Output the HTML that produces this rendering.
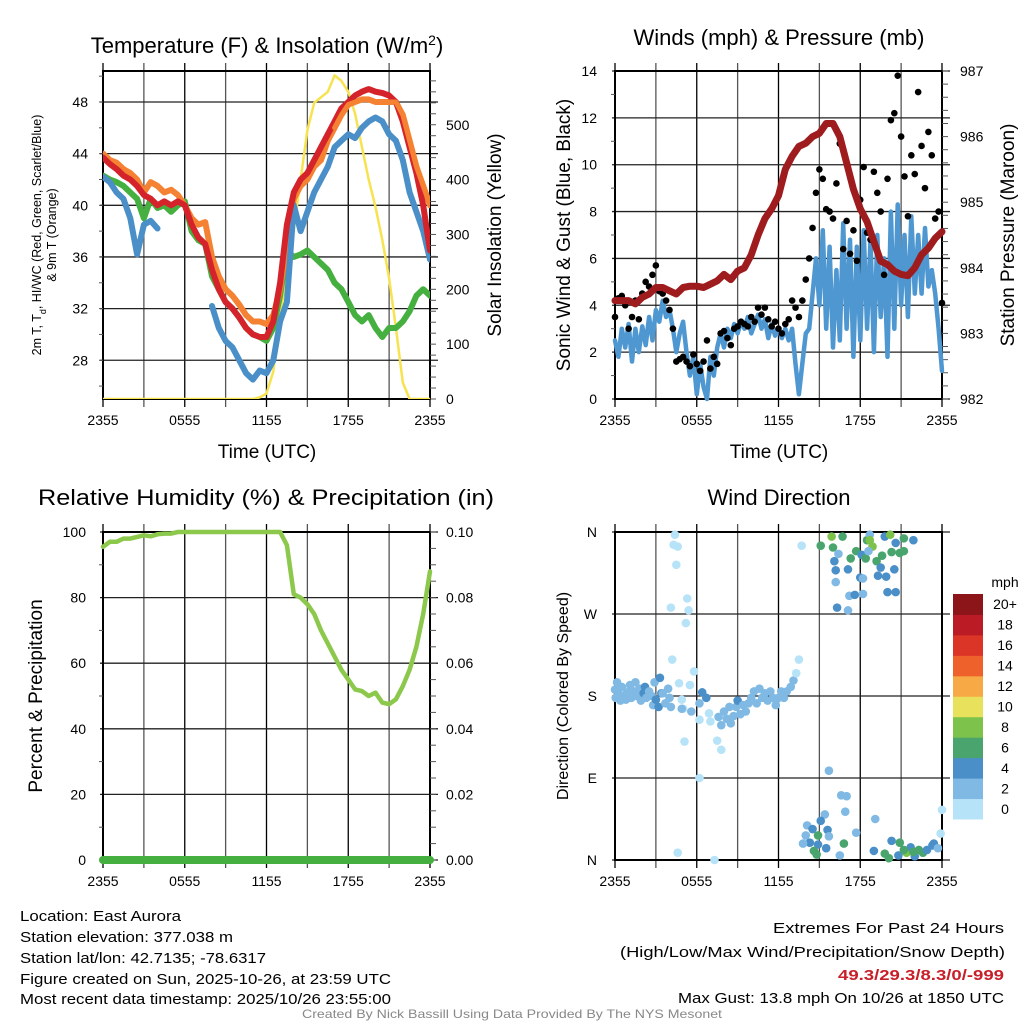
<!DOCTYPE html>
<html><head><meta charset="utf-8"><title>Station Meteogram</title>
<style>
html,body{margin:0;padding:0;background:#fff;}
svg{display:block;font-family:"Liberation Sans",sans-serif;}
</style></head>
<body>
<svg id="chart" width="1024" height="1024" viewBox="0 0 1024 1024" xmlns="http://www.w3.org/2000/svg">
<rect width="1024" height="1024" fill="#fff"/>
<g id="layer"></g>
<text x="267" y="53" font-size="22" text-anchor="middle">Temperature (F) &amp; Insolation (W/m<tspan baseline-shift="super" font-size="14">2</tspan>)</text>
<text x="779" y="45" font-size="22" text-anchor="middle">Winds (mph) &amp; Pressure (mb)</text>
<text x="266" y="505" font-size="22" text-anchor="middle" textLength="456" lengthAdjust="spacingAndGlyphs">Relative Humidity (%) &amp; Precipitation (in)</text>
<text x="779" y="505" font-size="22" text-anchor="middle">Wind Direction</text>

<text transform="translate(41,235) rotate(-90)" font-size="12.5" text-anchor="middle">2m T, T<tspan baseline-shift="sub" font-size="9">d</tspan>, HI/WC (Red, Green, Scarlet/Blue)</text>
<text transform="translate(56,235) rotate(-90)" font-size="12.5" text-anchor="middle">&amp; 9m T (Orange)</text>
<text transform="translate(501,235) rotate(-90)" font-size="19" text-anchor="middle">Solar Insolation (Yellow)</text>
<text x="267" y="458" font-size="19" text-anchor="middle">Time (UTC)</text>
<text transform="translate(570,235) rotate(-90)" font-size="19" text-anchor="middle">Sonic Wind &amp; Gust (Blue, Black)</text>
<text transform="translate(1014,235) rotate(-90)" font-size="19" text-anchor="middle">Station Pressure (Maroon)</text>
<text x="779" y="458" font-size="19" text-anchor="middle">Time (UTC)</text>
<text transform="translate(42,696) rotate(-90)" font-size="19" text-anchor="middle">Percent &amp; Precipitation</text>
<text transform="translate(568,696) rotate(-90)" font-size="16" text-anchor="middle">Direction (Colored By Speed)</text>
<text x="1005" y="587" font-size="14" text-anchor="middle">mph</text>

<g font-size="15">
<text x="20" y="921" textLength="161" lengthAdjust="spacingAndGlyphs">Location: East Aurora</text>
<text x="20" y="942" textLength="213" lengthAdjust="spacingAndGlyphs">Station elevation: 377.038 m</text>
<text x="20" y="963" textLength="246" lengthAdjust="spacingAndGlyphs">Station lat/lon: 42.7135; -78.6317</text>
<text x="20" y="984" textLength="371" lengthAdjust="spacingAndGlyphs">Figure created on Sun, 2025-10-26, at 23:59 UTC</text>
<text x="20" y="1004" textLength="371" lengthAdjust="spacingAndGlyphs">Most recent data timestamp: 2025/10/26 23:55:00</text>
</g>
<g font-size="15">
<text x="773" y="933" textLength="231" lengthAdjust="spacingAndGlyphs">Extremes For Past 24 Hours</text>
<text x="620" y="957" textLength="385" lengthAdjust="spacingAndGlyphs">(High/Low/Max Wind/Precipitation/Snow Depth)</text>
<text x="838" y="980" textLength="166" lengthAdjust="spacingAndGlyphs" fill="#c8202a" font-weight="bold">49.3/29.3/8.3/0/-999</text>
<text x="678" y="1003" textLength="326" lengthAdjust="spacingAndGlyphs">Max Gust: 13.8 mph On 10/26 at 1850 UTC</text>
</g>
<text x="302" y="1018" font-size="12" fill="#888" textLength="420" lengthAdjust="spacingAndGlyphs">Created By Nick Bassill Using Data Provided By The NYS Mesonet</text>
</svg>
<script>
// ===== Data (half-hourly, 49 points from 2355 to 2355) =====
const xTickLabels = ["2355","0555","1155","1755","2355"];
const tempTicks = [28,32,36,40,44,48];
const solarTicks = [0,100,200,300,400,500];
const windTicks = [0,2,4,6,8,10,12,14];
const presTicks = [982,983,984,985,986,987];
const rhTicks = [0,20,40,60,80,100];
const precipTicks = ["0.00","0.02","0.04","0.06","0.08","0.10"];
const dirTickLabels = ["N","E","S","W","N"];
const speedClassLabels = ["0","2","4","6","8","10","12","14","16","18","20+"];

const temp2m = [43.7,43.2,42.8,42.3,42.0,41.5,40.8,40.5,40.0,40.3,40.0,40.3,40.0,38.5,37.5,37.0,35.0,33.5,32.5,32.0,31.3,30.5,30.0,29.8,29.8,31.0,34.0,38.5,41.0,42.0,42.5,43.5,44.5,45.5,46.5,47.5,48.0,48.5,48.8,49.0,48.8,48.7,48.5,48.0,46.5,44.5,42.5,40.0,36.5];
const temp9m = [44.0,43.5,43.3,42.8,42.5,42.0,41.0,41.8,41.5,41.0,41.2,40.8,40.0,39.0,38.5,38.7,36.0,34.5,33.5,33.0,32.3,31.5,31.0,31.0,30.8,31.5,33.5,37.0,40.5,41.5,42.0,43.0,43.5,45.0,46.0,47.0,47.8,48.0,48.2,48.2,48.0,48.0,48.0,48.0,47.0,45.0,43.0,41.5,40.0];
const dewpoint = [42.3,42.0,41.8,41.5,41.0,40.5,39.0,40.5,39.8,40.0,39.5,40.0,40.3,38.0,37.3,37.0,34.5,33.5,32.5,32.0,31.3,30.5,30.0,29.8,29.5,30.5,33.0,36.5,36.0,36.2,36.5,36.0,35.5,35.0,34.0,33.5,32.5,31.5,31.0,31.5,30.5,29.8,30.5,30.5,31.0,31.8,33.0,33.5,33.0];
const heatIndexWC = [42.2,41.8,41.0,40.5,39.0,36.2,38.5,38.8,38.2,null,null,null,null,null,null,null,32.2,30.5,29.5,29.0,28.0,27.0,26.5,27.2,27.0,28.0,31.0,32.5,40.0,38.0,39.5,41.0,42.0,43.0,44.5,45.0,45.5,45.2,46.0,46.5,46.8,46.5,45.5,45.0,43.5,41.0,39.5,38.0,35.8];
const solar = [0,0,0,0,0,0,0,0,0,0,0,0,0,0,0,0,0,0,0,0,0,0,0,3,10,50,150,230,310,400,490,540,550,560,590,580,560,520,460,400,350,290,220,130,30,0,0,0,0];
// quarter-hourly sonic wind (97 points)
const windSpeed = [2.5,1.8,3.0,2.2,3.2,1.6,3.0,2.0,3.1,2.3,3.5,2.5,3.8,3.3,4.2,3.5,3.8,3.0,2.0,2.8,3.3,2.0,1.0,1.8,0.2,1.5,0.5,0.0,1.8,1.0,2.2,2.8,2.2,3.0,2.6,3.2,2.8,3.3,3.0,3.5,2.8,3.2,3.6,3.0,3.4,2.6,3.2,2.7,3.0,2.6,3.0,2.5,3.0,1.5,0.2,1.5,2.8,3.0,4.5,6.0,4.0,7.2,3.0,6.5,2.2,5.5,2.5,7.5,3.0,6.8,1.8,6.5,2.5,7.2,3.0,6.8,2.0,7.0,3.5,6.0,1.8,8.0,3.0,8.3,4.0,7.0,3.5,7.8,4.5,7.0,4.5,7.3,4.8,5.5,4.5,3.0,1.2];
const pressure = [983.5,983.5,983.5,983.45,983.55,983.6,983.7,983.7,983.65,983.6,983.7,983.72,983.72,983.7,983.75,983.8,983.9,983.82,983.95,984.0,984.2,984.5,984.75,984.9,985.1,985.5,985.7,985.85,985.9,986.0,986.05,986.2,986.2,986.0,985.6,985.2,984.9,984.7,984.4,984.1,984.05,983.95,983.9,983.88,984.0,984.2,984.3,984.45,984.55];
const relHumidity = [95.5,97,97,98,98,98.5,99,98.7,99.3,99.5,99.5,100,100,100,100,100,100,100,100,100,100,100,100,100,100,100,100,96,81,80,78,75,70,66,62,58,55,52,51.5,50,51,48,47.5,49,53,58,65,75,88];
const precip = [0,0,0,0,0,0,0,0,0,0,0,0,0,0,0,0,0,0,0,0,0,0,0,0,0,0,0,0,0,0,0,0,0,0,0,0,0,0,0,0,0,0,0,0,0,0,0,0,0];
// quarter-hourly gusts (97 points)
const gust = [3.5,4.3,4.4,4.0,3.0,3.5,4.2,3.4,4.5,5.0,4.8,5.3,5.7,4.6,4.5,4.2,3.8,3.0,1.6,1.7,1.8,1.6,1.4,1.9,1.5,1.2,1.6,2.5,1.3,1.8,1.5,2.8,2.9,2.6,2.3,3.0,3.1,3.3,3.2,3.1,3.5,3.3,3.9,3.6,3.9,3.4,3.1,3.3,3.0,2.8,3.2,3.4,4.2,3.9,3.5,4.2,5.1,6.0,7.3,8.8,9.8,9.4,8.1,8.0,7.7,9.2,10.9,6.4,7.6,6.2,7.2,5.9,8.5,9.9,7.1,6.8,9.7,8.8,8.0,5.3,9.4,11.9,12.2,13.8,11.2,9.5,7.8,10.4,9.6,13.1,10.8,9.0,11.4,10.4,7.7,8.0,4.1];
// wind direction scatter: hours since 2355, degrees, mph
const wdHour = [0.0,0.05,0.15,0.3,0.4,0.5,0.6,0.8,0.9,1.1,1.2,1.4,1.5,1.6,1.8,1.9,2.1,2.2,2.3,2.5,2.7,2.8,2.9,3.0,3.2,3.3,3.4,3.5,3.7,3.9,4.0,4.1,
 4.7,5.5,5.8,4.9,5.0,6.2,6.9,7.0,7.5,7.8,5.1,4.2,6.2,4.6,7.3,4.4,4.3,4.6,4.5,5.3,4.1,5.4,5.2,4.9,5.6,6.4,6.7,6.2,
 7.6,7.8,8.0,8.2,8.4,8.5,8.7,8.9,9.0,9.2,9.4,9.6,9.8,10.0,10.2,10.4,10.6,10.8,11.0,11.2,11.4,11.6,11.8,12.0,12.2,12.4,12.6,12.9,13.1,13.3,13.5,13.7,
 15.1,15.9,16.0,16.7,16.1,16.2,16.4,16.2,16.3,17.1,17.2,17.6,18.2,17.1,17.3,17.7,18.0,18.2,18.1,18.4,18.5,18.7,18.7,18.9,18.6,19.2,19.6,19.5,19.3,19.9,19.8,20.2,20.0,20.6,20.5,20.3,20.6,20.9,21.2,21.2,21.9,
 15.7,16.6,17.0,16.9,19.1,17.7,15.4,15.1,14.1,14.5,14.0,15.6,15.7,14.9,14.3,13.8,14.9,14.6,14.8,15.5,16.5,16.8,19.0,19.8,20.1,20.3,20.9,20.8,21.4,21.7,22.0,22.3,22.6,22.9,23.3,23.4,23.7,23.9,24.0,21.9,21.2];
const wdDir = [187,178,195,182,175,190,180,176,184,192,178,185,195,180,188,175,183,190,178,185,180,170,195,176,168,200,183,183,172,188,178,168,
 194,192,207,176,166,154,161,152,131,121,130,220,90,8,0,357,346,344,324,287,277,274,260,166,163,184,178,172,
 157,148,163,155,168,150,158,168,175,160,170,163,172,178,185,172,188,178,183,175,185,178,170,178,185,178,185,190,197,205,220,345,
 345,355,343,355,328,318,336,305,277,274,290,291,292,319,331,339,310,309,335,331,351,357,351,344,339,328,334,321,312,311,355,357,294,294,319,338,348,337,339,353,351,
 98,71,70,53,45,30,50,43,38,34,27,33,26,27,19,18,17,10,6,13,5,18,10,7,2,21,19,5,8,14,4,11,8,11,16,18,13,29,55,9,11];
const wdSpeed = [2.5,2.5,2.6,2.4,2.8,2.3,2.7,2.5,3.0,2.6,2.4,2.8,2.5,3.2,2.6,2.4,4.1,4.3,2.5,2.3,2.6,2.5,2.5,4.1,4.0,4.0,4.2,2.4,2.3,2.6,2.7,2.4,
 1.5,1.3,1.4,1.2,1.0,1.1,1.5,1.0,1.2,1.0,1.3,1.2,1.0,1.1,1.0,1.2,1.3,1.1,1.4,1.5,1.2,1.1,1.3,2.5,2.5,4.2,4.1,2.5,
 2.5,2.6,2.7,2.5,2.8,3.0,2.6,2.5,4.1,2.5,2.6,2.4,2.7,2.5,2.6,2.5,2.8,2.4,2.5,2.6,2.7,2.5,2.6,2.5,2.4,2.6,2.5,2.4,2.6,1.5,1.5,1.2,
 6.5,8.5,6.5,6.5,4.5,4.5,3.0,3.0,4.5,3.0,3.0,4.5,3.0,4.5,6.5,6.5,4.5,3.0,4.5,6.5,6.5,3.0,8.5,8.5,3.0,6.5,6.5,4.5,4.5,4.5,4.5,8.5,4.5,4.5,4.5,6.5,4.5,6.5,6.5,6.5,4.5,
 3.0,3.0,3.0,3.0,3.0,3.0,3.0,4.5,3.0,4.5,3.0,4.5,3.0,6.5,4.5,3.0,4.5,6.5,6.5,4.5,3.0,6.5,4.5,6.5,6.5,4.5,6.5,4.5,8.5,4.5,4.5,6.5,6.5,4.5,4.5,4.5,3.0,1.5,1.5,6.5,6.5];

// ===== rendering =====
const NS = "http://www.w3.org/2000/svg";
const layer = document.getElementById('layer');
const speedColors = ["#b7e3f8","#7fb9e4","#4a8fc7","#49a56d","#7cc24b","#e7e15b","#f7a945","#ef612b","#db3527","#bb1b24","#8c1519"];
function mk(tag, attrs, parent){const e=document.createElementNS(NS,tag);for(const k in attrs)e.setAttribute(k,attrs[k]);(parent||layer).appendChild(e);return e;}
function lin(d0,d1,r0,r1){return v=>r0+(v-d0)*(r1-r0)/(d1-d0);}

const panels = {
  temp:{x0:103,x1:430,y0:71,y1:399},
  wind:{x0:615,x1:942,y0:71,y1:399},
  rh:{x0:103,x1:430,y0:532,y1:860},
  wdir:{x0:615,x1:942,y0:532,y1:860}
};
function frame(p,name,vTicks){
  const g=mk('g',{});
  
  
  for(let i=0;i<=8;i++){
    const x=p.x0+i*(p.x1-p.x0)/8;
    mk('line',{x1:x,x2:x,y1:p.y0-8,y2:p.y1+8,stroke:(i%2==0)?'#000':'#555','stroke-width':1.3},g);
  }
  vTicks.forEach(y=>mk('line',{x1:p.x0-3,x2:p.x1+8,y1:y,y2:y,stroke:'#222','stroke-width':1.3},g));
  mk('rect',{x:p.x0,y:p.y0,width:p.x1-p.x0,height:p.y1-p.y0,fill:'none',stroke:'#000','stroke-width':2},g);
  const lg=mk('g',{});
  
  
  xTickLabels.forEach((t,i)=>{const tx=mk('text',{x:p.x0+i*(p.x1-p.x0)/4,y:p.y1+26,'font-size':14,'text-anchor':'middle'},lg);tx.textContent=t;});
}
function minor(x,y0,y1,n,len){for(let i=0;i<=n;i++){const y=y0+i*(y1-y0)/n;mk('line',{x1:x,x2:x+len,y1:y,y2:y,stroke:'#555','stroke-width':1});}}
function yLabels(vals,ys,x,anchor,name){
  const g=mk('g',{});
  
  
  vals.forEach((v,i)=>{const t=mk('text',{x:x,y:ys[i]+5,'font-size':14,'text-anchor':anchor},g);t.textContent=v;});
}
function linePath(xs,vals,ys,color,w,name,parent){
  let d='',pen=false;
  vals.forEach((v,i)=>{if(v===null){pen=false;return;}d+=(pen?'L':'M')+xs(i).toFixed(1)+' '+ys(v).toFixed(1)+' ';pen=true;});
  const p=mk('path',{d:d,fill:'none',stroke:color,'stroke-width':w,'stroke-linejoin':'round','stroke-linecap':'round'},parent);
  
  
  return p;
}

// ---- Temperature panel ----
{
  const p=panels.temp;
  const yT=lin(25,50.4,p.y1,p.y0), yS=lin(0,598,p.y1,p.y0);
  const xi=i=>p.x0+i*(p.x1-p.x0)/(temp2m.length-1);
  frame(p,'temp',tempTicks.map(yT));
  minor(p.x0-4,yT(26),yT(50),12,4);
  minor(p.x1,yS(0),yS(580),29,6);
  yLabels(tempTicks,tempTicks.map(yT),88,'end','temp-y-tick-labels');
  yLabels(solarTicks,solarTicks.map(yS),446,'start','solar-y-tick-labels');
  const clip=mk('clipPath',{id:'cT'});mk('rect',{x:p.x0,y:p.y0,width:p.x1-p.x0,height:p.y1-p.y0},clip);
  const g=mk('g',{'clip-path':'url(#cT)'});
  linePath(xi,solar,yS,'#f7e34f',2.5,'solar-line',g);
  linePath(xi,dewpoint,yT,'#45b040',6,'dewpoint-line',g);
  linePath(xi,temp9m,yT,'#f58232',6,'temp-9m-line',g);
  linePath(xi,heatIndexWC,yT,'#4a8fc7',6,'heat-index-windchill-line',g);
  linePath(xi,temp2m,yT,'#d4232a',6,'temp-2m-line',g);
  linePath(xi,temp9m.map((v,i)=>i>=34?v:null),yT,'#f58232',5,'temp-9m-line-top',g);
}
// ---- Wind panel ----
{
  const p=panels.wind;
  const yW=lin(0,14,p.y1,p.y0), yP=lin(982,987,p.y1,p.y0);
  const xi=i=>p.x0+i*(p.x1-p.x0)/(pressure.length-1);
  const xw=i=>p.x0+i*(p.x1-p.x0)/(windSpeed.length-1);
  const xg=i=>p.x0+i*(p.x1-p.x0)/(gust.length-1);
  frame(p,'wind',windTicks.map(yW));
  minor(p.x0-4,yW(1),yW(13),6,4);
  minor(p.x1,yP(982),yP(987),25,6);
  yLabels(windTicks,windTicks.map(yW),597,'end','wind-y-tick-labels');
  yLabels(presTicks,presTicks.map(yP),960,'start','pressure-y-tick-labels');
  linePath(xw,windSpeed,yW,'#4f97d1',4.5,'wind-speed-line');
  const gg=mk('g',{});
  
  
  gust.forEach((v,i)=>{const c=mk('circle',{cx:xg(i),cy:yW(v),r:3.3,fill:'#000'},gg);
    
    });
  linePath(xi,pressure,yP,'#9e1b1e',7,'pressure-line');
}
// ---- RH panel ----
{
  const p=panels.rh;
  const yR=lin(0,100,p.y1,p.y0), yPr=lin(0,0.1,p.y1,p.y0);
  const xi=i=>p.x0+i*(p.x1-p.x0)/(relHumidity.length-1);
  frame(p,'rh',rhTicks.map(yR));
  minor(p.x0-4,yR(10),yR(90),4,4);
  minor(p.x1,yR(0),yR(100),20,6);
  yLabels(rhTicks,rhTicks.map(yR),86,'end','rh-y-tick-labels');
  yLabels(precipTicks,rhTicks.map(yR),446,'start','precip-y-tick-labels');
  linePath(xi,relHumidity,yR,'#8cc84b',4.5,'rh-line');
  linePath(xi,precip,yPr,'#45b040',8,'precip-line');
}
// ---- Wind direction panel ----
{
  const p=panels.wdir;
  const yD=lin(0,360,p.y1,p.y0), xH=lin(0,24,p.x0,p.x1);
  frame(p,'wdir',[0,90,180,270,360].map(yD));
  yLabels(dirTickLabels,[0,90,180,270,360].map(yD),597,'end','wdir-y-tick-labels');
  const g=mk('g',{});
  
  
  wdHour.forEach((h,i)=>{
    const k=Math.min(10,Math.floor(wdSpeed[i]/2));
    const c=mk('circle',{cx:xH(h),cy:yD(wdDir[i]),r:4.3,fill:speedColors[k]},g);
    
    
  });
  const cb=mk('g',{});
  
  
  const bh=(819-594)/11;
  speedClassLabels.forEach((lab,i)=>{
    const y=819-(i+1)*bh;
    mk('rect',{x:953,y:y,width:30,height:bh+0.5,fill:speedColors[i]},cb);
    const t=mk('text',{x:1005,y:y+bh/2+5,'font-size':14,'text-anchor':'middle'},cb);t.textContent=lab;
  });
}
</script>
</body></html>
